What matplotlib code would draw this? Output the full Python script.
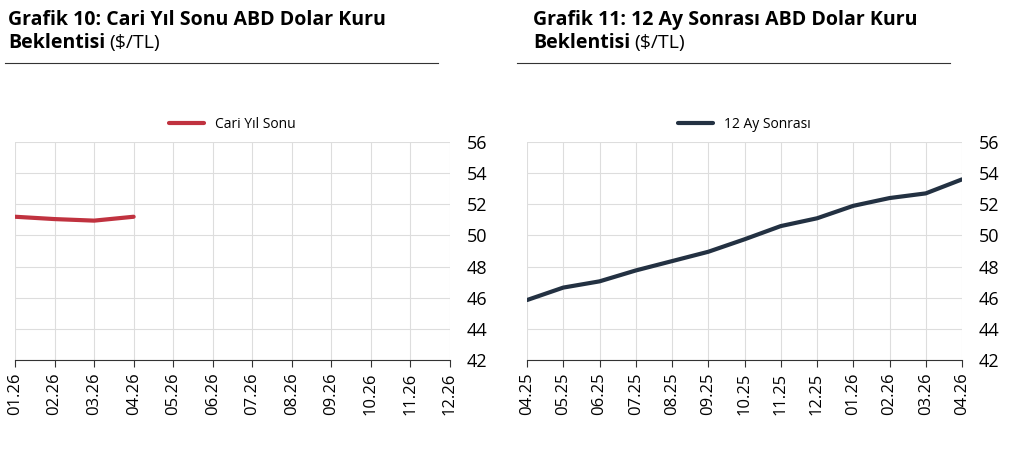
import matplotlib
matplotlib.use("Agg")
import matplotlib.pyplot as plt

plt.rcParams['font.family'] = ['Open Sans', 'DejaVu Sans']

left_cats = ["01.26","02.26","03.26","04.26","05.26","06.26","07.26","08.26","09.26","10.26","11.26","12.26"]
left_vals = [51.2, 51.05, 50.95, 51.2]
right_cats = ["04.25","05.25","06.25","07.25","08.25","09.25","10.25","11.25","12.25","01.26","02.26","03.26","04.26"]
right_vals = [45.85, 46.65, 47.05, 47.75, 48.35, 48.95, 49.75, 50.6, 51.1, 51.9, 52.4, 52.7, 53.6]
yticks = [42, 44, 46, 48, 50, 52, 54, 56]

W, H = 1024, 450
fig = plt.figure(figsize=(W/100, H/100), dpi=100)

def panel(x0, x1, cats, vals, color, label, title_bold, sub):
    ax = fig.add_axes([x0/W, 1-360/H, (x1-x0)/W, (360-142)/H])
    ax.plot(range(len(vals)), vals, color=color, lw=3, label=label, solid_capstyle='round')
    ax.set_xlim(0, len(cats)-1)
    ax.set_ylim(42, 56)
    ax.set_yticks(yticks)
    ax.set_xticks(range(len(cats)))
    ax.set_xticklabels(cats, rotation=90, fontsize=12)
    ax.yaxis.tick_right()
    ax.tick_params(axis='y', labelsize=13, length=0, pad=12)
    ax.tick_params(axis='x', length=5, color='#333333', pad=4)
    ax.grid(True, color='#dddddd', lw=0.8)
    for s in ['top', 'right', 'left']:
        ax.spines[s].set_visible(False)
    ax.spines['bottom'].set_color('#333333')
    ax.legend(loc='lower center', bbox_to_anchor=(0.5, 1.02), frameon=False, fontsize=10,
              handlelength=2.5, borderaxespad=0)
    tx = (x0-7)/W if x0 < 100 else (x0+6)/W
    fig.text(tx, 1-20/H, title_bold[0], fontsize=14, fontweight='bold', va='center')
    t = fig.text(tx, 1-43/H, title_bold[1], fontsize=14, fontweight='bold', va='center')
    fig.canvas.draw()
    bb = t.get_window_extent()
    fig.text(bb.x1/W + 0.004, 1-43/H, sub, fontsize=14, va='center')
    fig.add_artist(plt.Line2D([(x0-10)/W, (x0+423)/W], [1-63/H]*2, color='#333333', lw=0.8))

panel(15, 450, left_cats, left_vals, '#c0323f', 'Cari Yıl Sonu',
      ("Grafik 10: Cari Yıl Sonu ABD Dolar Kuru", "Beklentisi"), "($/TL)")
panel(527, 962, right_cats, right_vals, '#233142', '12 Ay Sonrası',
      ("Grafik 11: 12 Ay Sonrası ABD Dolar Kuru", "Beklentisi"), "($/TL)")

fig.savefig("out.png", dpi=100)
